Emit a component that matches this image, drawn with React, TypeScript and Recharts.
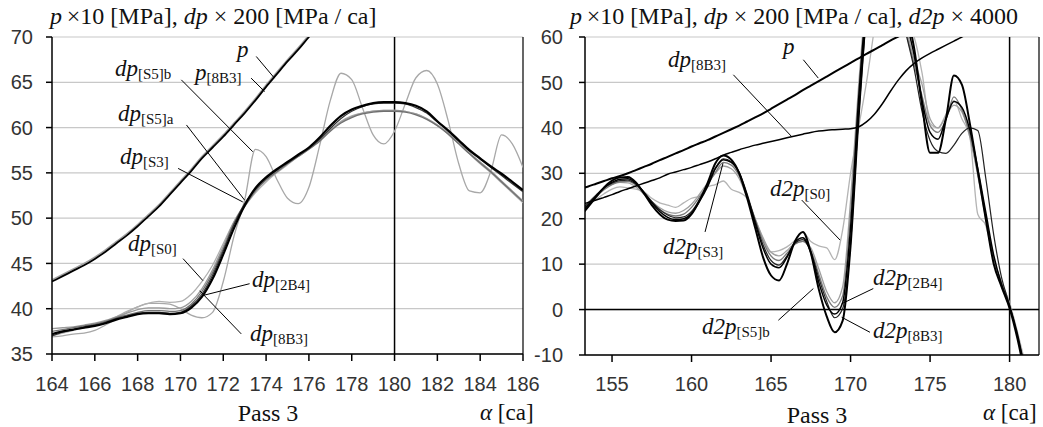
import React from 'react';
import { LineChart, Line, XAxis, YAxis, CartesianGrid, ReferenceLine } from 'recharts';

// ---------- Left panel (dp) ----------
const leftAlpha = [164, 164.5, 165, 165.5, 166, 166.5, 167, 167.5, 168, 168.5, 169, 169.5, 170, 170.5, 171, 171.5, 172, 172.5, 173, 173.5, 174, 174.5, 175, 175.5, 176, 176.5, 177, 177.5, 178, 178.5, 179, 179.5, 180, 180.5, 181, 181.5, 182, 182.5, 183, 183.5, 184, 184.5, 185, 185.5, 186];
const pLeft = [43.0, 43.6, 44.2, 44.8, 45.5, 46.3, 47.2, 48.1, 49.1, 50.2, 51.3, 52.6, 53.9, 55.2, 56.6, 57.8, 59.0, 60.3, 61.6, 63.0, 64.5, 65.9, 67.3, 68.6, 70.0, 71.3, 72.7, null, null, null, null, null, null, null, null, null, null, null, null, null, null, null, null, null, null];
const p8B3Left = [43.2, 43.8, 44.4, 45.0, 45.7, 46.5, 47.4, 48.3, 49.3, 50.4, 51.5, 52.8, 54.1, 55.4, 56.8, 58.0, 59.2, 60.5, 61.8, 63.2, 64.7, 66.1, 67.5, 68.8, 70.2, 71.5, null, null, null, null, null, null, null, null, null, null, null, null, null, null, null, null, null, null, null];
const dp2B4Left = [37.2, 37.5, 37.7, 37.9, 38.1, 38.4, 38.8, 39.1, 39.4, 39.5, 39.5, 39.4, 39.5, 40.1, 41.3, 43.3, 46.0, 48.9, 51.4, 53.3, 54.5, 55.4, 56.2, 57.0, 57.8, 58.9, 60.2, 61.3, 62.0, 62.4, 62.7, 62.8, 62.8, 62.7, 62.4, 61.8, 60.7, 59.7, 58.6, 57.5, 56.6, 55.7, 54.9, 54.0, 53.1];
const dp8B3Left = [37.0, 37.4, 37.7, 38.0, 38.2, 38.5, 38.9, 39.2, 39.5, 39.6, 39.6, 39.5, 39.6, 40.3, 41.6, 43.7, 46.4, 49.3, 51.6, 53.2, 54.4, 55.3, 56.1, 56.9, 57.7, 58.7, 59.9, 61.0, 61.8, 62.3, 62.6, 62.7, 62.7, 62.6, 62.2, 61.6, 60.6, 59.6, 58.5, 57.4, 56.5, 55.6, 54.7, 53.8, 52.9];
const dpS3Left = [37.5, 37.7, 37.9, 38.1, 38.3, 38.6, 39.0, 39.3, 39.6, 39.8, 39.8, 39.7, 39.8, 40.5, 41.9, 44.0, 46.6, 49.4, 51.3, 53.0, 54.2, 55.1, 56.0, 56.8, 57.6, 58.5, 59.6, 60.5, 61.1, 61.5, 61.7, 61.8, 61.8, 61.7, 61.4, 60.9, 60.2, 59.3, 58.2, 57.1, 56.1, 55.1, 54.0, 52.9, 51.8];
const dpS5aLeft = [37.8, 37.9, 38.0, 38.2, 38.4, 38.7, 39.1, 39.5, 39.9, 40.1, 40.1, 40.0, 40.1, 40.8, 42.2, 44.3, 46.9, 49.6, 51.5, 53.1, 54.3, 55.2, 56.1, 56.9, 57.7, 58.6, 59.7, 60.6, 61.2, 61.6, 61.8, 61.9, 61.9, 61.8, 61.5, 61.0, 60.3, 59.4, 58.3, 57.2, 56.2, 55.2, 54.1, 53.0, 51.9];
const dpS0Left = [37.0, 37.3, 37.6, 37.9, 38.2, 38.6, 39.1, 39.7, 40.2, 40.6, 40.8, 40.7, 40.8, 41.6, 43.0, 44.8, 47.2, 49.6, 51.3, 52.8, 54.0, 55.0, 55.9, 56.8, 57.6, 58.6, 59.7, 60.7, 61.3, 61.6, 61.8, 61.9, 61.9, 61.8, 61.5, 61.0, 60.2, 59.3, 58.2, 57.1, 56.0, 55.0, 53.9, 52.8, 51.7];
const dpS5bLeft = [36.9, 37.0, 37.2, 37.3, 37.6, 38.2, 38.9, 39.6, 40.2, 40.6, 40.6, 40.5, 40.0, 39.3, 39.0, 39.6, 43.0, 48.0, 52.0, 57.6, 56.8, 54.3, 52.2, 51.6, 53.4, 58.0, 63.0, 66.0, 65.3, 62.2, 59.2, 58.2, 59.6, 62.6, 65.5, 66.3, 64.8, 60.8, 56.0, 53.0, 52.8, 55.2, 59.2, 58.2, 55.6];
const leftXTicks = [164, 166, 168, 170, 172, 174, 176, 178, 180, 182, 184, 186];
const leftYTicks = [35, 40, 45, 50, 55, 60, 65, 70];

// ---------- Right panel (d2p) ----------
const rightAlpha = [153, 153.5, 154, 154.5, 155, 155.5, 156, 156.5, 157, 157.5, 158, 158.5, 159, 159.5, 160, 160.5, 161, 161.5, 162, 162.5, 163, 163.5, 164, 164.5, 165, 165.5, 166, 166.5, 167, 167.5, 168, 168.5, 169, 169.5, 170, 170.5, 171, 171.5, 172, 172.5, 173, 173.5, 174, 174.5, 175, 175.5, 176, 176.5, 177, 177.5, 178, 178.5, 179, 179.5, 180, 180.5, 181, 181.5];
const pRight = [26.6, 27.1, 27.7, 28.3, 28.9, 29.4, 30.0, 30.7, 31.4, 32.1, 32.9, 33.6, 34.4, 35.1, 35.9, 36.6, 37.3, 38.1, 38.9, 39.7, 40.5, 41.4, 42.3, 43.2, 44.2, 45.2, 46.2, 47.2, 48.3, 49.3, 50.3, 51.3, 52.3, 53.3, 54.3, 55.3, 56.3, 57.2, 58.2, 59.2, 60.1, 61.0, 62.0, null, null, null, null, null, null, null, null, null, null, null, null, null, null, null];
const dp8B3Right = [23.0, 23.6, 24.1, 24.7, 25.3, 26.0, 26.6, 27.2, 27.8, 28.4, 29.0, 29.8, 30.3, 30.8, 31.3, 31.9, 32.5, 33.2, 34.0, 34.6, 35.2, 35.7, 36.2, 36.6, 37.0, 37.4, 37.8, 38.2, 38.6, 39.0, 39.3, 39.5, 39.6, 39.7, 39.8, 40.2, 41.3, 43.0, 45.3, 48.0, 50.5, 52.6, 54.2, 55.4, 56.4, 57.3, 58.2, 59.1, 60.0, 60.8, null, null, null, null, null, null, null, null];
const d2pS5bRight = [20.5, 22.6, 24.8, 26.9, 28.4, 29.1, 29.2, 28.0, 25.6, 23.0, 21.0, 19.8, 19.5, 19.6, 21.0, 24.0, 27.8, 32.2, 33.9, 33.0, 30.0, 24.5, 18.0, 11.5, 7.5, 6.4, 10.0, 15.0, 17.1, 12.5, 4.5, -1.5, -5.0, -2.5, 14.0, 42.0, 66.0, 82.0, 88.0, 86.0, 78.0, 66.0, 57.5, 45.0, 34.5, 34.5, 42.0, 51.5, 49.5, 41.0, 30.5, 20.0, 10.1, 5.0, 0.3, -6.5, -15.0, null];
const d2p2B4Right = [21.0, 23.0, 25.0, 26.8, 28.0, 28.7, 28.8, 27.8, 25.8, 23.5, 21.6, 20.3, 19.8, 20.0, 21.2, 23.8, 27.0, 31.0, 33.0, 32.4, 30.0, 25.0, 19.0, 13.5, 10.0, 9.2, 11.5, 14.8, 15.8, 12.5, 6.0, 1.0, -1.0, 1.5, 18.0, 46.0, 68.0, 84.0, 88.0, 85.0, 76.0, 64.0, 56.0, 46.0, 39.0, 37.5, 42.0, 45.8, 44.5, 39.5, 31.0, 21.5, 12.0, 5.5, 0.8, -5.5, -14.0, null];
const d2p8B3Right = [21.8, 23.4, 25.2, 26.8, 27.8, 28.4, 28.5, 27.6, 25.9, 23.8, 22.0, 20.8, 20.2, 20.4, 21.6, 24.2, 27.4, 31.2, 33.2, 32.6, 30.2, 25.4, 19.6, 14.2, 10.8, 9.8, 11.8, 14.6, 15.4, 12.8, 7.0, 1.8, -1.8, 0.2, 14.5, 42.0, 65.0, 82.0, 86.0, 80.0, 68.0, 60.5, 53.0, 43.5, 37.2, 34.8, 34.4, 36.2, 38.8, 40.0, 39.4, 29.0, 16.5, 7.0, 1.0, -6.0, -13.0, null];
const d2pS3Right = [21.5, 23.2, 24.9, 26.4, 27.5, 28.1, 28.2, 27.4, 25.6, 23.6, 22.0, 21.0, 20.6, 21.0, 22.5, 24.8, 27.4, 30.2, 32.4, 31.8, 29.4, 24.8, 19.8, 15.0, 11.8, 10.8, 12.4, 14.4, 15.0, 13.0, 7.8, 2.8, 0.5, 3.0, 21.0, 47.0, 68.0, 82.0, 85.0, 80.0, 70.0, 61.0, 54.0, 47.0, 40.5, 39.0, 41.8, 46.8, 44.0, 38.5, 30.0, 20.5, 11.5, 5.5, 0.8, -5.8, -14.0, null];
const d2pS5aRight = [22.0, 23.6, 25.2, 26.6, 27.6, 28.0, 27.9, 27.0, 25.4, 23.8, 22.4, 21.5, 21.2, 21.8, 23.2, 25.4, 27.8, 30.0, 31.6, 31.0, 28.8, 24.6, 20.0, 15.8, 12.6, 11.8, 13.0, 14.6, 15.0, 13.6, 9.0, 4.0, 1.5, 5.0, 24.0, 49.0, 70.0, 83.0, 85.0, 80.0, 70.0, 62.0, 55.0, 49.5, 42.0, 40.0, 42.5, 45.0, 43.5, 38.0, 29.5, 20.0, 11.0, 5.0, 0.5, -6.0, -14.5, null];
const d2pS0Right = [22.0, 23.0, 24.3, 25.5, 26.5, 27.0, 26.8, 26.5, 26.0, 24.5, 23.5, 23.0, 22.5, 23.5, 24.5, 25.0, 27.0, 27.5, 28.3, 26.5, 25.8, 24.5, 20.0, 15.5, 12.7, 13.0, 13.8, 15.2, 17.0, 15.0, 14.0, 13.6, 11.0, 17.5, 30.0, 40.0, 50.0, 62.0, 75.0, 78.0, 72.0, 64.0, 60.0, 52.0, 41.0, 40.0, 43.0, 46.0, 42.0, 38.0, 21.0, 18.5, 11.0, 6.0, 1.5, -5.0, -12.0, null];
const rightXTicks = [155, 160, 165, 170, 175, 180];
const rightYTicks = [-10, 0, 10, 20, 30, 40, 50, 60];

const leftData = leftAlpha.map((a, i) => ({
  a,
  p: pLeft[i],
  p8B3: p8B3Left[i],
  dp2B4: dp2B4Left[i],
  dp8B3: dp8B3Left[i],
  dpS3: dpS3Left[i],
  dpS5a: dpS5aLeft[i],
  dpS0: dpS0Left[i],
  dpS5b: dpS5bLeft[i],
}));

const rightData = rightAlpha.map((a, i) => ({
  a,
  p: pRight[i],
  dp8B3: dp8B3Right[i],
  d2pS5b: d2pS5bRight[i],
  d2p2B4: d2p2B4Right[i],
  d2p8B3: d2p8B3Right[i],
  d2pS3: d2pS3Right[i],
  d2pS5a: d2pS5aRight[i],
  d2pS0: d2pS0Right[i],
}));

const SERIF = "'Liberation Serif', 'Times New Roman', serif";
const SANS = "'Liberation Sans', Arial, sans-serif";
const tickStyle = { fontSize: 20, fontFamily: SANS, fill: '#333' };
const axisStroke = { stroke: '#000', strokeWidth: 1.5 };

function Tag({ x, y, main, sub }: { x: number; y: number; main: string; sub?: string }) {
  return (
    <text x={x} y={y} fontFamily={SERIF} fill="#111">
      <tspan fontStyle="italic" fontSize={23}>{main}</tspan>
      {sub ? <tspan fontSize={15} dy={3}>{sub}</tspan> : null}
    </text>
  );
}

const lineCommon = { type: 'monotone' as const, dot: false, isAnimationActive: false, connectNulls: false };

export default function App() {
  return (
    <div style={{ position: 'absolute', left: 0, top: 0, width: 1043, height: 427, background: '#fff', overflow: 'hidden' }}>
      <div style={{ position: 'absolute', left: 0, top: 0 }}>
        <LineChart width={540} height={427} data={leftData} margin={{ top: 37, right: 17, bottom: 43, left: 0 }}>
          <CartesianGrid vertical={false} stroke="#c8c8c8" strokeWidth={1.2} />
          <XAxis type="number" dataKey="a" domain={[164, 186]} ticks={leftXTicks} interval={0} allowDataOverflow
            height={30} tickSize={7} tickMargin={16} tick={tickStyle} axisLine={axisStroke} tickLine={axisStroke} />
          <YAxis type="number" domain={[35, 70]} ticks={leftYTicks} interval={0} allowDataOverflow
            width={52} tickSize={6} tickMargin={13} tick={tickStyle} axisLine={axisStroke} tickLine={axisStroke} />
          <ReferenceLine x={180} stroke="#000" strokeWidth={1.5} ifOverflow="visible" />
          <ReferenceLine x={186} stroke="#000" strokeWidth={1.2} ifOverflow="visible" />
          <Line {...lineCommon} dataKey="dpS5b" stroke="#a8a8a8" strokeWidth={1.3} />
          <Line {...lineCommon} dataKey="dpS0" stroke="#b0b0b0" strokeWidth={1.3} />
          <Line {...lineCommon} dataKey="dpS5a" stroke="#9a9a9a" strokeWidth={1.3} />
          <Line {...lineCommon} dataKey="dpS3" stroke="#707070" strokeWidth={1.3} />
          <Line {...lineCommon} dataKey="p8B3" stroke="#a0a0a0" strokeWidth={1.5} />
          <Line {...lineCommon} dataKey="dp8B3" stroke="#333" strokeWidth={1.2} />
          <Line {...lineCommon} dataKey="dp2B4" stroke="#000" strokeWidth={2.2} />
          <Line {...lineCommon} dataKey="p" stroke="#000" strokeWidth={1.8} />
          <ReferenceLine segment={[{ x: 173.54, y: 67.85 }, { x: 174.39, y: 65.46 }]} stroke="#000" strokeWidth={1} ifOverflow="visible" />
          <ReferenceLine segment={[{ x: 173.3, y: 65.46 }, { x: 173.93, y: 63.98 }]} stroke="#000" strokeWidth={1} ifOverflow="visible" />
          <ReferenceLine segment={[{ x: 170.04, y: 65.27 }, { x: 173.38, y: 57.33 }]} stroke="#000" strokeWidth={1} ifOverflow="visible" />
          <ReferenceLine segment={[{ x: 170.28, y: 60.29 }, { x: 173.0, y: 51.98 }]} stroke="#000" strokeWidth={1} ifOverflow="visible" />
          <ReferenceLine segment={[{ x: 169.89, y: 55.49 }, { x: 172.91, y: 51.79 }]} stroke="#000" strokeWidth={1} ifOverflow="visible" />
          <ReferenceLine segment={[{ x: 170.12, y: 45.53 }, { x: 171.05, y: 43.1 }]} stroke="#000" strokeWidth={1} ifOverflow="visible" />
          <ReferenceLine segment={[{ x: 173.23, y: 42.76 }, { x: 171.05, y: 41.46 }]} stroke="#000" strokeWidth={1} ifOverflow="visible" />
          <ReferenceLine segment={[{ x: 172.84, y: 37.22 }, { x: 170.9, y: 41.98 }]} stroke="#000" strokeWidth={1} ifOverflow="visible" />
        </LineChart>
      </div>
      <div style={{ position: 'absolute', left: 520, top: 0 }}>
        <LineChart width={523} height={427} data={rightData} margin={{ top: 37, right: 4, bottom: 42, left: 0 }}>
          <CartesianGrid vertical={false} stroke="#c8c8c8" strokeWidth={1.2} />
          <XAxis type="number" dataKey="a" domain={[153.3, 181.85]} ticks={rightXTicks} interval={0} allowDataOverflow
            height={30} tickSize={7} tickMargin={15} tick={tickStyle} axisLine={axisStroke} tickLine={axisStroke} />
          <YAxis type="number" domain={[-10, 60]} ticks={rightYTicks} interval={0} allowDataOverflow
            width={65} tickSize={6} tickMargin={16} tick={tickStyle} axisLine={axisStroke} tickLine={axisStroke} />
          <ReferenceLine x={180} stroke="#000" strokeWidth={1.5} ifOverflow="visible" />
          <ReferenceLine x={181.85} stroke="#000" strokeWidth={1.2} ifOverflow="visible" />
          <ReferenceLine y={0} stroke="#000" strokeWidth={1.5} ifOverflow="visible" />
          <Line {...lineCommon} dataKey="d2pS0" stroke="#b4b4b4" strokeWidth={1.3} />
          <Line {...lineCommon} dataKey="d2pS5a" stroke="#a0a0a0" strokeWidth={1.3} />
          <Line {...lineCommon} dataKey="d2pS3" stroke="#7a7a7a" strokeWidth={1.3} />
          <Line {...lineCommon} dataKey="d2p8B3" stroke="#222" strokeWidth={1.2} />
          <Line {...lineCommon} dataKey="d2p2B4" stroke="#000" strokeWidth={1.5} />
          <Line {...lineCommon} dataKey="d2pS5b" stroke="#000" strokeWidth={2} />
          <Line {...lineCommon} dataKey="dp8B3" stroke="#000" strokeWidth={1.5} />
          <Line {...lineCommon} dataKey="p" stroke="#000" strokeWidth={2} />
          <ReferenceLine segment={[{ x: 167.03, y: 54.99 }, { x: 167.97, y: 50.95 }]} stroke="#000" strokeWidth={1} ifOverflow="visible" />
          <ReferenceLine segment={[{ x: 162.63, y: 51.68 }, { x: 166.3, y: 38.06 }]} stroke="#000" strokeWidth={1} ifOverflow="visible" />
          <ReferenceLine segment={[{ x: 166.93, y: 24.1 }, { x: 169.34, y: 15.3 }]} stroke="#000" strokeWidth={1} ifOverflow="visible" />
          <ReferenceLine segment={[{ x: 160.85, y: 17.09 }, { x: 161.98, y: 32.23 }]} stroke="#000" strokeWidth={1} ifOverflow="visible" />
          <ReferenceLine segment={[{ x: 165.46, y: -2.35 }, { x: 167.66, y: 4.63 }]} stroke="#000" strokeWidth={1} ifOverflow="visible" />
          <ReferenceLine segment={[{ x: 171.43, y: 4.63 }, { x: 169.44, y: 1.28 }]} stroke="#000" strokeWidth={1} ifOverflow="visible" />
          <ReferenceLine segment={[{ x: 171.22, y: -5.0 }, { x: 169.44, y: -1.68 }]} stroke="#000" strokeWidth={1} ifOverflow="visible" />
        </LineChart>
      </div>
      <svg width={1043} height={427} style={{ position: 'absolute', left: 0, top: 0, pointerEvents: 'none' }}>
        <text x={50} y={24} fontFamily={SERIF} fontSize={24} fill="#111">
          <tspan fontStyle="italic">p</tspan>
          <tspan>{'\u2009\u00d710 [MPa], '}</tspan>
          <tspan fontStyle="italic">dp</tspan>
          <tspan>{' \u00d7 200 [MPa / ca]'}</tspan>
        </text>
        <text x={570} y={24} fontFamily={SERIF} fontSize={24} fill="#111">
          <tspan fontStyle="italic">p</tspan>
          <tspan>{'\u2009\u00d710 [MPa], '}</tspan>
          <tspan fontStyle="italic">dp</tspan>
          <tspan>{' \u00d7 200 [MPa / ca], '}</tspan>
          <tspan fontStyle="italic">d2p</tspan>
          <tspan>{' \u00d7 4000'}</tspan>
        </text>
        <text x={268} y={421} textAnchor="middle" fontFamily={SERIF} fontSize={24} fill="#111">Pass 3</text>
        <text x={817} y={423} textAnchor="middle" fontFamily={SERIF} fontSize={24} fill="#111">Pass 3</text>
        <text x={480} y={420} fontFamily={SERIF} fontSize={23} fill="#111">
          <tspan fontStyle="italic">{'\u03b1'}</tspan><tspan>{' [ca]'}</tspan>
        </text>
        <text x={983} y={420} fontFamily={SERIF} fontSize={23} fill="#111">
          <tspan fontStyle="italic">{'\u03b1'}</tspan><tspan>{' [ca]'}</tspan>
        </text>
        <Tag x={237} y={57} main="p" />
        <Tag x={195} y={80} main="p" sub="[8B3]" />
        <Tag x={115} y={76} main="dp" sub="[S5]b" />
        <Tag x={118} y={121} main="dp" sub="[S5]a" />
        <Tag x={120} y={164} main="dp" sub="[S3]" />
        <Tag x={128} y={251} main="dp" sub="[S0]" />
        <Tag x={252} y={287} main="dp" sub="[2B4]" />
        <Tag x={250} y={341} main="dp" sub="[8B3]" />
        <Tag x={783} y={54} main="p" />
        <Tag x={668} y={67} main="dp" sub="[8B3]" />
        <Tag x={770} y={196} main="d2p" sub="[S0]" />
        <Tag x={663} y={254} main="d2p" sub="[S3]" />
        <Tag x={702} y={334} main="d2p" sub="[S5]b" />
        <Tag x={873} y={285} main="d2p" sub="[2B4]" />
        <Tag x={873} y={338} main="d2p" sub="[8B3]" />
      </svg>
    </div>
  );
}
